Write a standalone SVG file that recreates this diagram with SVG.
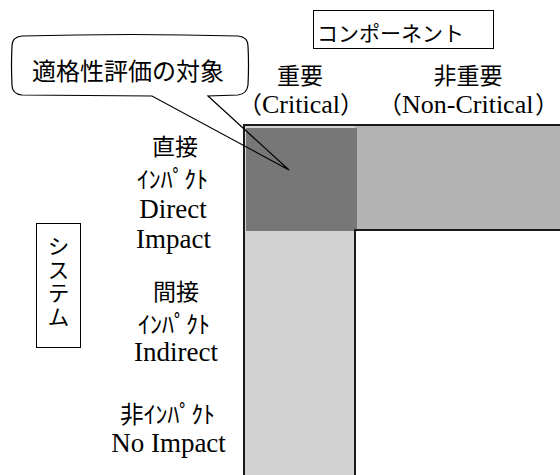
<svg xmlns="http://www.w3.org/2000/svg" width="560" height="475" viewBox="0 0 560 475">
<style>
.jp{font-family:"Noto Sans CJK JP","Noto Sans",sans-serif;fill:#000}
.en{font-family:'Liberation Serif','Tinos','Times New Roman','Noto Serif','DejaVu Serif',serif;fill:#000}
.box{fill:#fff;stroke:#000;stroke-width:1}
.edge{stroke:#1a1a1a;stroke-width:2;fill:none}
</style>
<rect width="560" height="475" fill="#fff"/>
<g id="matrix">
  <rect x="244" y="125" width="316" height="104" fill="#b3b3b3"/>
  <rect x="244" y="125" width="111" height="350" fill="#d3d3d3"/>
  <rect x="246" y="128" width="111" height="103" fill="#777777"/>
  <path class="edge" d="M244,475 V125 H560 M355,475 V230 H560"/>
</g>
<g id="component">
  <rect class="box" x="313.5" y="10.5" width="180" height="38"/>
  <text class="jp" x="317" y="41" font-size="21">コンポーネント</text>
</g>
<g id="col-critical">
  <text class="jp" x="300" y="84" font-size="23" text-anchor="middle">重要</text>
  <text class="en" y="113" font-size="26"><tspan class="jp" x="238" font-size="24">（</tspan><tspan x="262">Critical</tspan><tspan class="jp" x="340" font-size="24">）</tspan></text>
</g>
<g id="col-noncritical">
  <text class="jp" x="468" y="84" font-size="23" text-anchor="middle">非重要</text>
  <text class="en" y="113" font-size="26"><tspan class="jp" x="378" font-size="24">（</tspan><tspan x="402">Non-Critical</tspan><tspan class="jp" x="535" font-size="24">）</tspan></text>
</g>
<g id="system">
  <rect class="box" x="36.5" y="223.5" width="44" height="124"/>
  <text class="jp" x="58.5" y="235" font-size="22" letter-spacing="1.5" style="writing-mode:vertical-rl">システム</text>
</g>
<g id="row-direct">
  <text class="jp" x="175" y="155" font-size="23" text-anchor="middle">直接</text>
  <text class="jp" x="137" y="188" font-size="24" textLength="71" lengthAdjust="spacingAndGlyphs">ｲﾝﾊﾟｸﾄ</text>
  <text class="en" x="173" y="218" font-size="27" text-anchor="middle">Direct</text>
  <text class="en" x="173.5" y="248" font-size="27" text-anchor="middle">Impact</text>
</g>
<g id="row-indirect">
  <text class="jp" x="176" y="300" font-size="23" text-anchor="middle">間接</text>
  <text class="jp" x="138" y="333" font-size="24" textLength="72" lengthAdjust="spacingAndGlyphs">ｲﾝﾊﾟｸﾄ</text>
  <text class="en" x="176" y="361" font-size="27" text-anchor="middle">Indirect</text>
</g>
<g id="row-noimpact">
  <text class="jp" x="120" y="423" font-size="24" textLength="95" lengthAdjust="spacingAndGlyphs">非ｲﾝﾊﾟｸﾄ</text>
  <text class="en" x="168.5" y="452" font-size="27" text-anchor="middle">No Impact</text>
</g>
<g id="callout">
  <path d="M22,36 Q130,33 238,36 Q248,37 248,46 Q249,65 248,85 Q247,94 238,95 L208,96 L289,170 L152,96 L22,95 Q12,94 12,85 Q11,65 12,46 Q12,37 22,36 Z" fill="none" stroke="#000" stroke-width="1.2" stroke-linejoin="miter"/>
  <text class="jp" x="32" y="80" font-size="24">適格性評価の対象</text>
</g>
<g id="connectors"></g>
</svg>
